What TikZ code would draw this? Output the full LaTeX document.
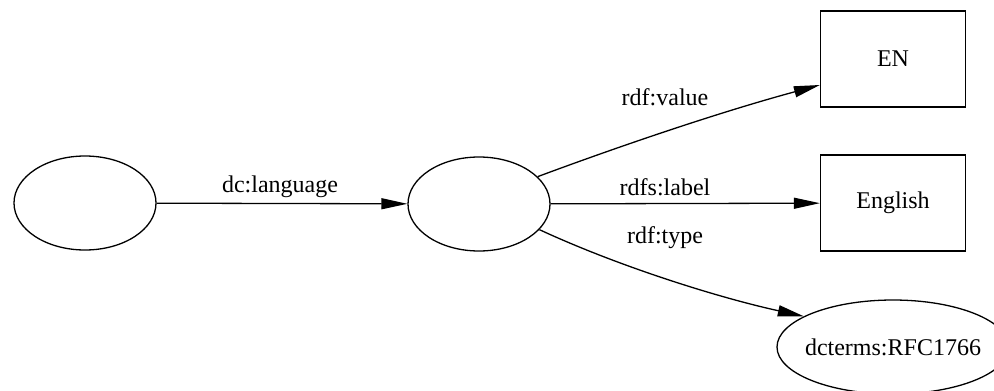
\documentclass[tikz,border=0pt]{standalone}
\usepackage{fontspec}
\setmainfont{Liberation Serif}
\usetikzlibrary{arrows.meta,shapes.geometric}
\begin{document}
\begin{tikzpicture}[x=1pt,y=-1pt,
  every node/.style={font=\fontsize{24}{28}\selectfont},
  res/.style={draw,ellipse,line width=1.3pt,inner sep=0pt,minimum width=142pt,minimum height=94pt},
  lit/.style={draw,rectangle,line width=1.3pt,inner sep=0pt,minimum width=145pt,minimum height=96pt},
  edge/.style={line width=1.3pt,-{Triangle[length=26pt,width=11pt]}},
  lbl/.style={inner sep=0pt}]
\clip (0,0) rectangle (994,391);
\fill[white] (0,0) rectangle (994,391);
\node[res] (a) at (85,203) {};
\node[res] (m) at (479,204) {};
\node[lit] (en) at (893,59) {EN};
\node[lit] (eng) at (893,203) {English};
\node[res,inner xsep=-12pt,minimum width=232pt] (d) at (893,347) {dcterms:RFC1766};
\draw[edge] (a) -- (m);
\draw[edge] (m.25) .. controls (620,146) and (720,112) .. ([yshift=-26pt]en.west);
\draw[edge] (m) -- (eng);
\draw[edge] (m.-23) .. controls (620,267) and (720,298) .. (d.161);
\node[lbl] (l1) at (280,187) {dc:language};
\node[lbl] (l2) at (665,97) {rdf:value};
\node[lbl] (l3) at (665,187) {rdfs:label};
\node[lbl] (l4) at (665,238) {rdf:type};
\end{tikzpicture}
\end{document}
